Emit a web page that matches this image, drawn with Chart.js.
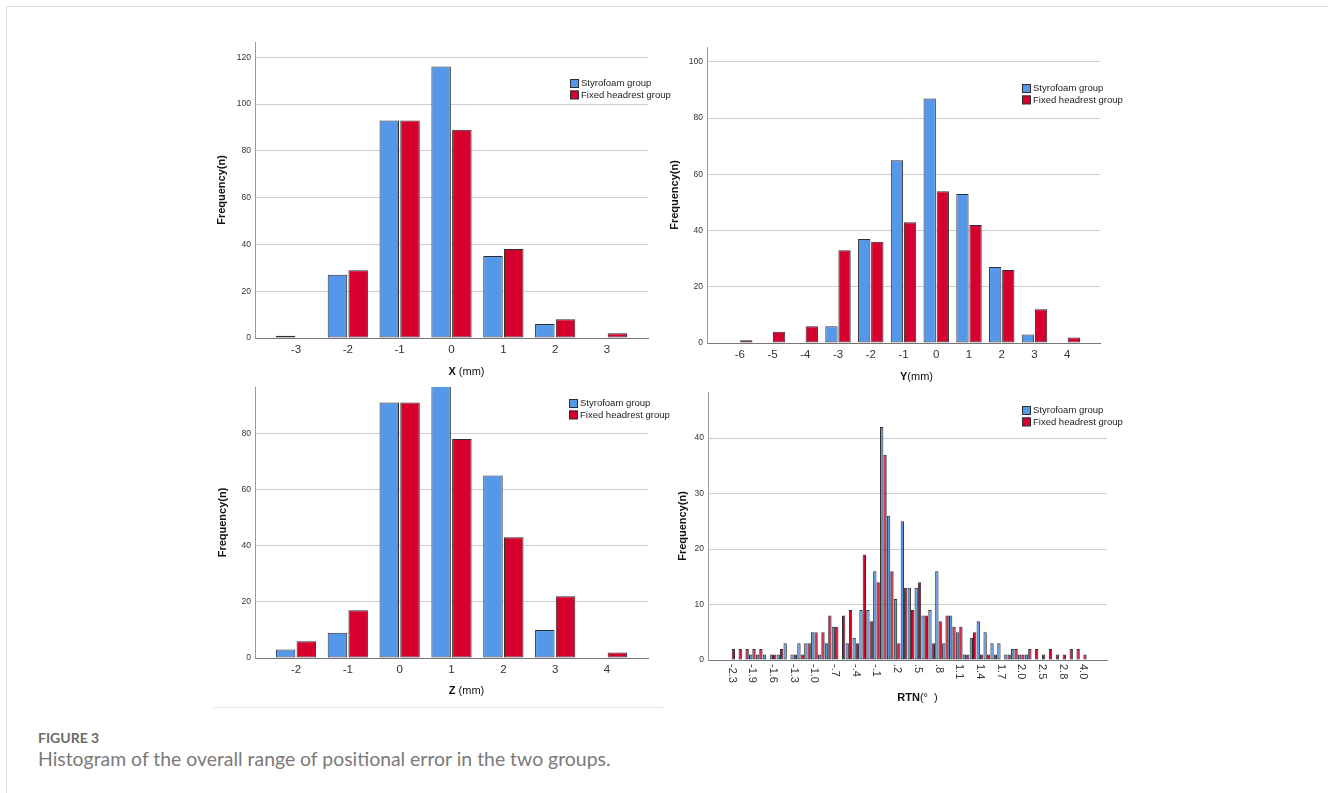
<!DOCTYPE html>
<html>
<head>
<meta charset="utf-8">
<script src="https://cdn.jsdelivr.net/npm/chart.js@4.4.0/dist/chart.umd.min.js"></script>
<style>
  body { margin: 0; background: #fff; width: 1328px; height: 793px; position: relative; overflow: hidden; }
  .frame { position: absolute; left: 6px; top: 6px; width: 1340px; height: 800px; border-left: 1px solid #dcdcdc; border-top: 1px solid #dcdcdc; }
  .imgline { position: absolute; left: 213px; top: 707px; width: 450px; height: 1px; background: #e4e4e4; }
  canvas { position: absolute; }
  .fig { position: absolute; left: 38px; top: 729px; font-family: Lato, "Open Sans", sans-serif; font-size: 14px; font-weight: bold; color: #6a6a6a; }
  .cap { position: absolute; left: 38px; top: 747px; font-family: Lato, "Open Sans", sans-serif; font-size: 19.4px; color: #7a7a7a; }
</style>
</head>
<body>
<div class="frame"></div>
<canvas id="cx" width="475" height="360" style="left:210px;top:30px"></canvas>
<canvas id="cy" width="475" height="365" style="left:660px;top:30px"></canvas>
<canvas id="cz" width="475" height="330" style="left:210px;top:375px"></canvas>
<canvas id="cr" width="475" height="330" style="left:660px;top:380px"></canvas>
<div class="imgline"></div>
<div class="fig">FIGURE 3</div>
<div class="cap">Histogram of the overall range of positional error in the two groups.</div>
<script>
const seriesNames = ['Styrofoam group', 'Fixed headrest group'];

// X (mm)
const xCats = [-3, -2, -1, 0, 1, 2, 3];
const xStyro = [1, 27, 93, 116, 35, 6, 0];
const xFixed = [0, 29, 93, 89, 38, 8, 2];

// Y (mm)
const yCats = [-6, -5, -4, -3, -2, -1, 0, 1, 2, 3, 4];
const yStyro = [0, 0, 0, 6, 37, 65, 87, 53, 27, 3, 0];
const yFixed = [1, 4, 6, 33, 36, 43, 54, 42, 26, 12, 2];

// Z (mm)
const zCats = [-2, -1, 0, 1, 2, 3, 4];
const zStyro = [3, 9, 91, 97, 65, 10, 0];
const zFixed = [6, 17, 91, 78, 43, 22, 2];

// RTN (degrees) - every 3rd label is printed on the axis
const rtnLabels = ['-2.3', '-2.2', '-2.1', '-1.9', '-1.8', '-1.7', '-1.6', '-1.5', '-1.4', '-1.3',
  '-1.2', '-1.1', '-1.0', '-.9', '-.8', '-.7', '-.6', '-.5', '-.4', '-.3',
  '-.2', '-.1', '.0', '.1', '.2', '.3', '.4', '.5', '.6', '.7',
  '.8', '.9', '1.0', '1.1', '1.2', '1.3', '1.4', '1.5', '1.6', '1.7',
  '1.8', '1.9', '2.0', '2.1', '2.3', '2.5', '2.6', '2.7', '2.8', '3.0',
  '3.3', '4.0'];
const rtnStyro = [0, 0, 0, 1, 1, 1, 1, 1, 3, 1, 3, 3, 5, 1, 3, 6, 0, 3, 4, 9,
  9, 16, 42, 26, 11, 25, 13, 13, 8, 9, 16, 3, 8, 5, 1, 4, 7, 5, 3, 3,
  1, 2, 1, 1, 0, 0, 0, 0, 0, 0, 0, 0];
const rtnFixed = [2, 2, 2, 2, 2, 0, 1, 2, 0, 1, 1, 3, 5, 5, 8, 6, 8, 9, 3, 19,
  7, 14, 37, 16, 3, 13, 9, 14, 8, 3, 7, 8, 6, 6, 1, 5, 1, 1, 1, 0,
  1, 2, 1, 2, 2, 1, 2, 1, 1, 2, 2, 1];

const BLUE = '#5597e8';
const RED = '#d6002e';
const EDGE = '#2e2e2e';
const FONT = '"Liberation Sans", Arial, sans-serif';
Chart.defaults.font.family = FONT;

// legend inside the plot, mixed-weight x title, vertical tick labels
const extras = {
  id: 'extras',
  afterDraw(chart, args, o) {
    const ctx = chart.ctx, a = chart.chartArea;
    ctx.save();
    const lx = a.right - o.legendRight, ly = a.top + o.legendTop;
    ctx.font = '9.5px ' + FONT;
    ctx.textBaseline = 'middle';
    ctx.textAlign = 'left';
    chart.data.datasets.forEach((ds, i) => {
      const y = ly + i * 11.5;
      ctx.fillStyle = ds.backgroundColor;
      ctx.fillRect(lx, y, 8.5, 8.5);
      ctx.strokeStyle = EDGE;
      ctx.lineWidth = 1;
      ctx.strokeRect(lx + 0.5, y + 0.5, 8, 8);
      ctx.fillStyle = '#222';
      ctx.fillText(ds.label, lx + 11, y + 4.8);
    });

    // x title
    const parts = o.title.map(p => ({ t: p[0], f: (p[1] ? 'bold ' : '') + '11px ' + FONT }));
    let w = 0;
    parts.forEach(p => { ctx.font = p.f; p.w = ctx.measureText(p.t).width; w += p.w; });
    let tx = (a.left + a.right) / 2 + o.titleDx - w / 2;
    const ty = a.bottom + o.titleDy;
    ctx.fillStyle = '#111';
    parts.forEach(p => { ctx.font = p.f; ctx.fillText(p.t, tx, ty); tx += p.w; });

    if (o.rotLabels) {
      const sx = chart.scales.x;
      ctx.font = '11px ' + FONT;
      ctx.fillStyle = '#333';
      o.rotLabels.forEach((lab, i) => {
        if (i % o.rotEvery) return;
        ctx.save();
        ctx.translate(sx.getPixelForValue(i), a.bottom + 4);
        ctx.rotate(Math.PI / 2);
        ctx.fillText(lab, 0, 0);
        ctx.restore();
      });
    }
    ctx.restore();
  }
};

function makeChart(id, cats, s1, s2, g) {
  const pts = v => v.map((y, i) => ({ x: cats[i], y: y }));
  const bar = { borderColor: EDGE, borderWidth: 1, borderSkipped: false };
  return new Chart(document.getElementById(id), {
    type: 'bar',
    data: {
      datasets: [
        Object.assign({ label: seriesNames[0], data: pts(s1), backgroundColor: BLUE }, bar),
        Object.assign({ label: seriesNames[1], data: pts(s2), backgroundColor: RED }, bar)
      ]
    },
    options: {
      responsive: false,
      animation: false,
      devicePixelRatio: 1,
      categoryPercentage: g.cat,
      barPercentage: g.bar,
      layout: { padding: g.pad },
      plugins: {
        legend: { display: false },
        tooltip: { enabled: false },
        extras: g.extras
      },
      scales: {
        x: {
          type: 'linear',
          offset: false,
          min: g.xmin,
          max: g.xmax,
          grid: { display: false },
          border: { color: '#777' },
          afterBuildTicks: s => { s.ticks = g.tickVals.map(v => ({ value: v })); },
          ticks: {
            display: g.showTicks,
            autoSkip: false,
            maxRotation: 0,
            padding: -3,
            color: '#333',
            font: { size: 11.5 },
            callback: v => String(v)
          },
          afterFit: s => { s.height = g.xh; s.paddingLeft = 0; s.paddingRight = 0; }
        },
        y: {
          min: 0,
          max: g.ymax,
          ticks: { stepSize: g.step, includeBounds: false, padding: 4, color: '#333', font: { size: 8.5 } },
          grid: { drawTicks: false, color: c => (c.tick && c.tick.value === 0) ? 'rgba(0,0,0,0)' : '#cfcfcf' },
          border: { color: '#999' },
          title: { display: true, text: 'Frequency(n)', color: '#111', font: { size: 11, weight: 'bold' }, padding: { top: 4, bottom: 0 } },
          afterFit: s => { s.width = g.yw; s.paddingTop = 0; s.paddingBottom = 0; }
        }
      }
    },
    plugins: [extras]
  });
}

makeChart('cx', xCats, xStyro, xFixed, {
  cat: 0.8, bar: 0.94, xmin: -3.79, xmax: 3.79, ymax: 126.5, step: 20,
  tickVals: xCats, showTicks: true, xh: 52, yw: 44,
  pad: { left: 1, top: 12, right: 37, bottom: 0 },
  extras: { legendRight: 78, legendTop: 37, title: [['X', true], [' (mm)', false]], titleDx: 15, titleDy: 34 }
});

makeChart('cy', yCats, yStyro, yFixed, {
  cat: 0.8, bar: 0.94, xmin: -7, xmax: 5, ymax: 105.3, step: 20,
  tickVals: yCats, showTicks: true, xh: 52, yw: 43,
  pad: { left: 4, top: 17, right: 35, bottom: 0 },
  extras: { legendRight: 78, legendTop: 37, title: [['Y', true], ['(mm)', false]], titleDx: 13, titleDy: 34 }
});

makeChart('cz', zCats, zStyro, zFixed, {
  cat: 0.8, bar: 0.94, xmin: -2.79, xmax: 4.79, ymax: 96.5, step: 20,
  tickVals: zCats, showTicks: true, xh: 47, yw: 43,
  pad: { left: 2, top: 12, right: 37, bottom: 0 },
  extras: { legendRight: 79, legendTop: 12, title: [['Z', true], [' (mm)', false]], titleDx: 15, titleDy: 33 }
});

const rtnIdx = rtnLabels.map((l, i) => i);
makeChart('cr', rtnIdx, rtnStyro, rtnFixed, {
  cat: 0.97, bar: 1.0, xmin: -3.43, xmax: 54.43, ymax: 48.3, step: 10,
  tickVals: rtnIdx.filter(i => i % 3 === 0), showTicks: false, xh: 50, yw: 36,
  pad: { left: 12, top: 12, right: 28, bottom: 0 },
  extras: { legendRight: 85, legendTop: 14, title: [['RTN', true], ['(°  )', false]], titleDx: 10, titleDy: 38,
            rotLabels: rtnLabels, rotEvery: 3 }
});
</script>
</body>
</html>
